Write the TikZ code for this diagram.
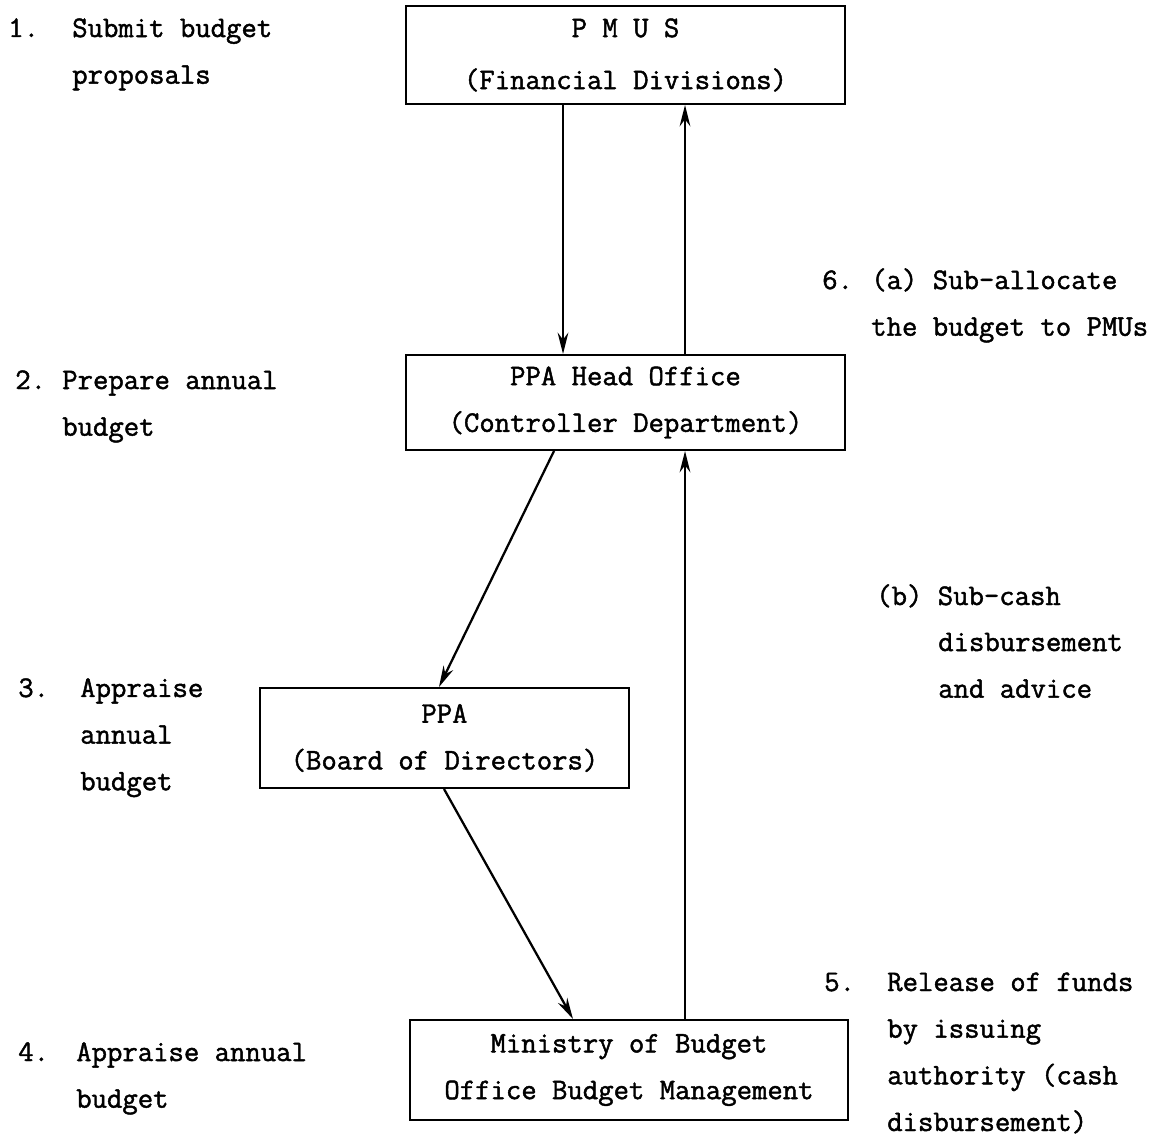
\documentclass[tikz,border=0pt]{standalone}
\usepackage{fontspec}
\newfontfamily\tw[FakeBold=1.5]{Latin Modern Mono}
\usetikzlibrary{arrows.meta,calc}
\begin{document}
\begin{tikzpicture}[x=0.75pt,y=-0.75pt,
  txt/.style={font=\tw\fontsize{22.4}{35}\selectfont},
  box/.style={draw,line width=1.5pt,inner sep=0pt,align=center,txt},
  lbl/.style={txt,anchor=base west,inner sep=0pt,align=left},
  arr/.style={line width=1.7pt,-{Stealth[length=16pt,width=8pt]}}]
\useasboundingbox[fill=white] (0,0) rectangle (1157,1141);

% organisational units
\node[box,minimum width=329.25pt,minimum height=73.5pt,
      font=\tw\fontsize{22.4}{39}\selectfont] (pmus) at (625.5,55)
  {P M U S\\(Financial Divisions)};
\node[box,minimum width=329.25pt,minimum height=71.25pt] (ho) at (625.5,402.5)
  {PPA Head Office\\(Controller Department)};
\node[box,minimum width=276.75pt,minimum height=75pt] (ppa) at (444.5,738)
  {PPA\\(Board of Directors)};
\node[box,minimum width=328.5pt,minimum height=75pt] (mob) at (629,1070)
  {Ministry of Budget\\Office Budget Management};

% flow of the budget
\draw[arr] ($(pmus.south west)+(158,0)$) -- ($(ho.north west)+(158,0)$);
\draw[arr] ($(ho.north west)+(280,0)$) -- ($(pmus.south west)+(280,0)$);
\draw[arr] ($(ho.south west)+(149,0)$) -- ($(ppa.north west)+(180,0)$);
\draw[arr] ($(ppa.south west)+(185,0)$) -- ($(mob.north west)+(164,0)$);
\draw[arr] ($(mob.north west)+(276,0)$) -- ($(ho.south west)+(280,0)$);

% steps on the left (multi-line texts sit on the baseline of their last line)
\node[lbl] (n1) at (8,37) {1.};
\node[lbl] (s1) at (72,83.7) {Submit budget\\proposals};
\node[lbl] (n2) at (15,389) {2.};
\node[lbl] (s2) at (62,435.7) {Prepare annual\\budget};
\node[lbl] (n3) at (18,697) {3.};
\node[lbl] (s3) at (80,790.3) {Appraise\\annual\\budget};
\node[lbl] (n4) at (18,1061) {4.};
\node[lbl] (s4) at (76,1107.7) {Appraise annual\\budget};

% steps on the right
\node[lbl] (n6) at (822,289) {6.};
\node[lbl] (s6a) at (871,335.7) {(a) Sub-allocate\\the budget to PMUs};
\node[lbl] (s6b) at (876,605) {(b) Sub-cash};
\node[lbl] (s6c) at (938,697.7) {disbursement\\and advice};
\node[lbl] (n5) at (824,991) {5.};
\node[lbl] (s5) at (887,1131) {Release of funds\\by issuing\\authority (cash\\disbursement)};
\end{tikzpicture}
\end{document}
